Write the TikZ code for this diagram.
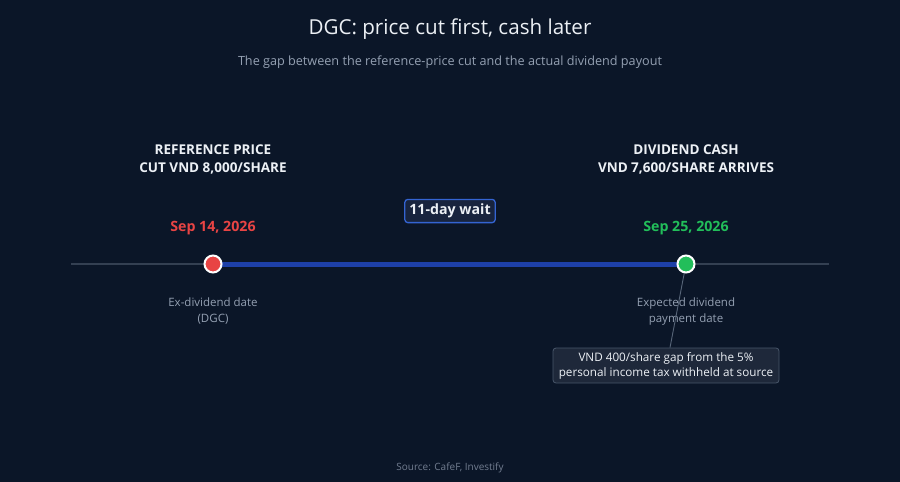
\documentclass[tikz,border=0pt]{standalone}
\usepackage{fontspec}
\setmainfont{Open Sans}
\usetikzlibrary{arrows.meta}

\definecolor{bgnavy}{RGB}{11,22,40}
\definecolor{txtwhite}{RGB}{236,240,245}
\definecolor{txtgray}{RGB}{148,160,178}
\definecolor{axisgray}{RGB}{52,64,82}
\definecolor{waitblue}{RGB}{30,64,168}
\definecolor{boxblue}{RGB}{52,100,210}
\definecolor{boxfill}{RGB}{24,36,62}
\definecolor{exred}{RGB}{232,68,68}
\definecolor{paygreen}{RGB}{34,190,90}
\definecolor{notefill}{RGB}{30,40,58}
\definecolor{noteedge}{RGB}{72,86,106}

\tikzset{
    headlbl/.style={font=\fontsize{13.5}{18}\selectfont\bfseries,text=txtwhite,align=center},
    datelbl/.style={font=\fontsize{14.2}{17}\selectfont\bfseries},
    sublbl/.style={font=\fontsize{11.5}{16}\selectfont,text=txtgray,align=center},
    dot/.style={circle,draw=white,line width=2pt,minimum size=17pt,inner sep=0pt}
}

\begin{document}
\begin{tikzpicture}[x=1pt,y=-1pt]

    % background
    \fill[bgnavy] (0,0) rectangle (900,482);
    \useasboundingbox (0,0) rectangle (900,482);

    %%%%%%%%%%%%%%%%%%%%%%%%%%%%%%%%%%%%%%%%%%%%%%%%%%%%%%

    % title and subtitle
    \node[text=txtwhite,font=\fontsize{20.6}{24}\selectfont] (title) at (450,29) {DGC: price cut first, cash later};
    \node[text=txtgray,font=\fontsize{12.65}{16}\selectfont] (subtitle) at (450,62) {The gap between the reference-price cut and the actual dividend payout};

    %%%%%%%%%%%%%%%%%%%%%%%%%%%%%%%%%%%%%%%%%%%%%%%%%%%%%%

    % timeline
    \coordinate (axl) at (71,264);
    \coordinate (axr) at (829,264);
    \draw[axisgray,line width=2.5pt] (axl) -- (axr);
    \coordinate (exd) at (213,264);
    \coordinate (payd) at (686,264);
    \draw[waitblue,line width=5pt] (exd) -- (payd);

    % wait label
    \node[draw=boxblue,fill=boxfill,line width=1.3pt,rounded corners=3pt,text=txtwhite,
          font=\fontsize{14.2}{17}\selectfont\bfseries,inner xsep=4.5pt,inner ysep=4.5pt] (wait) at (450,211) {11-day wait};

    %%%%%%%%%%%%%%%%%%%%%%%%%%%%%%%%%%%%%%%%%%%%%%%%%%%%%%

    % ex-dividend date
    \node[headlbl] (exhead) at (213,159.5) {REFERENCE PRICE\\CUT VND 8,000/SHARE};
    \node[datelbl,text=exred] (exdate) at (213,228.5) {Sep 14, 2026};
    \node[dot,fill=exred] (exdot) at (exd) {};
    \node[sublbl] (exsub) at (213,311.5) {Ex-dividend date\\(DGC)};

    %%%%%%%%%%%%%%%%%%%%%%%%%%%%%%%%%%%%%%%%%%%%%%%%%%%%%%

    % payment date
    \node[headlbl] (payhead) at (686,159.5) {DIVIDEND CASH\\VND 7,600/SHARE ARRIVES};
    \node[datelbl,text=paygreen] (paydate) at (686,228.5) {Sep 25, 2026};
    \node[sublbl] (paysub) at (686,311.5) {Expected dividend\\payment date};

    % tax note
    \node[draw=noteedge,fill=notefill,rounded corners=3pt,line width=0.8pt,text=txtwhite,align=center,
          font=\fontsize{11.7}{15}\selectfont,minimum width=226pt,minimum height=35pt,inner sep=2pt] (note) at (666,365.5)
          {VND 400/share gap from the 5\%\\personal income tax withheld at source};
    \draw[noteedge!80!txtgray,line width=0.9pt] (note.north) ++(4,0) coordinate (notetip) -- (payd);
    \node[dot,fill=paygreen] (paydot) at (payd) {};

    %%%%%%%%%%%%%%%%%%%%%%%%%%%%%%%%%%%%%%%%%%%%%%%%%%%%%%

    % source
    \node[text=txtgray!75!bgnavy,font=\fontsize{10}{12}\selectfont] (source) at (450,468) {Source: CafeF, Investify};

\end{tikzpicture}
\end{document}
